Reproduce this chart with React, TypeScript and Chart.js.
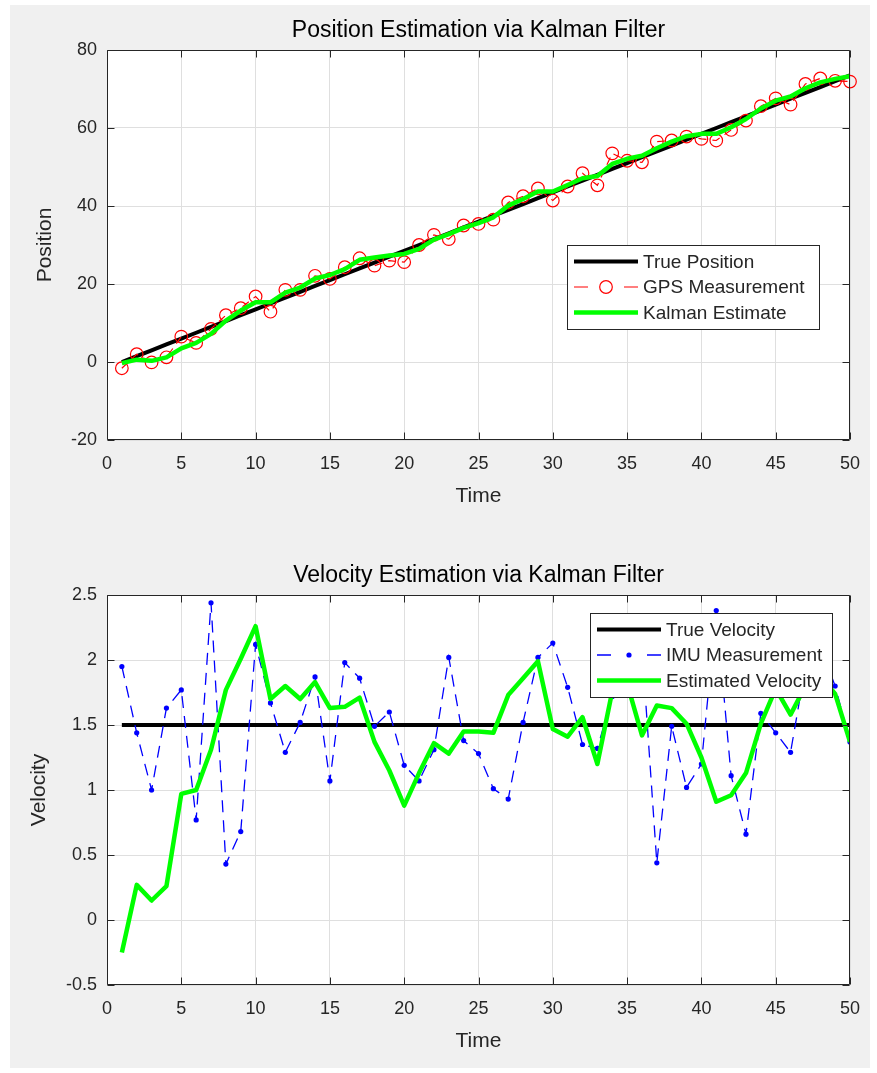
import React, { useEffect, useRef } from "react";
import { Chart, registerables } from "chart.js";

Chart.register(...registerables);

// ---------------- DATA ----------------
const time = [1, 2, 3, 4, 5, 6, 7, 8, 9, 10, 11, 12, 13, 14, 15, 16, 17, 18, 19, 20, 21, 22, 23, 24, 25, 26, 27, 28, 29, 30, 31, 32, 33, 34, 35, 36, 37, 38, 39, 40, 41, 42, 43, 44, 45, 46, 47, 48, 49, 50];

const truePosition = [0, 1.5, 3, 4.5, 6, 7.5, 9, 10.5, 12, 13.5, 15, 16.5, 18, 19.5, 21, 22.5, 24, 25.5, 27, 28.5, 30, 31.5, 33, 34.5, 36, 37.5, 39, 40.5, 42, 43.5, 45, 46.5, 48, 49.5, 51, 52.5, 54, 55.5, 57, 58.5, 60, 61.5, 63, 64.5, 66, 67.5, 69, 70.5, 72, 73.5];

const gpsMeasurement = [-1.6, 2.0, -0.1, 1.2, 6.5, 4.9, 8.5, 12.0, 13.8, 16.8, 12.9, 18.5, 18.5, 22.1, 21.3, 24.3, 26.6, 24.7, 26.0, 25.6, 30.0, 32.6, 31.5, 35.0, 35.4, 36.5, 40.9, 42.5, 44.5, 41.4, 45.0, 48.4, 45.3, 53.5, 51.6, 51.2, 56.5, 56.8, 57.8, 57.2, 56.8, 59.5, 61.9, 65.6, 67.6, 66.0, 71.3, 72.7, 72.1, 71.9];

const kalmanEstimate = [-0.3, 0.6, 0.3, 1.2, 3.5, 4.9, 7.2, 10.6, 13.2, 15.3, 15.3, 17.8, 19.1, 21.4, 22.3, 23.8, 26.2, 26.8, 27.3, 27.7, 29.0, 31.4, 32.8, 34.4, 35.6, 37.1, 40.1, 41.8, 43.7, 43.7, 45.4, 47.1, 47.7, 50.8, 52.1, 52.9, 54.8, 56.5, 57.9, 58.5, 58.5, 60.2, 62.3, 65.0, 67.0, 68.1, 70.2, 71.7, 72.6, 73.3];

const trueVelocity = [1.5, 1.5, 1.5, 1.5, 1.5, 1.5, 1.5, 1.5, 1.5, 1.5, 1.5, 1.5, 1.5, 1.5, 1.5, 1.5, 1.5, 1.5, 1.5, 1.5, 1.5, 1.5, 1.5, 1.5, 1.5, 1.5, 1.5, 1.5, 1.5, 1.5, 1.5, 1.5, 1.5, 1.5, 1.5, 1.5, 1.5, 1.5, 1.5, 1.5, 1.5, 1.5, 1.5, 1.5, 1.5, 1.5, 1.5, 1.5, 1.5, 1.5];

const imuMeasurement = [1.95, 1.44, 1.0, 1.63, 1.77, 0.77, 2.44, 0.43, 0.68, 2.12, 1.67, 1.29, 1.52, 1.87, 1.07, 1.98, 1.86, 1.49, 1.6, 1.19, 1.07, 1.31, 2.02, 1.38, 1.28, 1.01, 0.93, 1.52, 2.02, 2.13, 1.79, 1.35, 1.32, 1.72, 1.9, 2.1, 0.44, 1.49, 1.02, 1.2, 2.38, 1.11, 0.66, 1.59, 1.44, 1.29, 1.95, 2.1, 1.8, 1.37];

const estimatedVelocity = [-0.25, 0.27, 0.15, 0.26, 0.97, 1.0, 1.31, 1.77, 2.01, 2.26, 1.7, 1.8, 1.7, 1.83, 1.63, 1.64, 1.71, 1.37, 1.15, 0.88, 1.13, 1.36, 1.28, 1.45, 1.45, 1.44, 1.73, 1.86, 1.99, 1.47, 1.41, 1.56, 1.2, 1.76, 1.82, 1.42, 1.65, 1.63, 1.51, 1.25, 0.91, 0.96, 1.13, 1.51, 1.78, 1.58, 1.8, 1.88, 1.74, 1.37];

const positionTitle = "Position Estimation via Kalman Filter";
const velocityTitle = "Velocity Estimation via Kalman Filter";
const positionLegend = ["True Position", "GPS Measurement", "Kalman Estimate"];
const velocityLegend = ["True Velocity", "IMU Measurement", "Estimated Velocity"];

// ---------------- STYLE ----------------
const FONT = '"Liberation Sans", Arial, Helvetica, sans-serif';
const TEXT = "#262626";
const GRID = "#dfdfdf";

const pts = (xs: number[], ys: number[]) => xs.map((x, i) => ({ x, y: ys[i] }));
const fmt = (v: any) => String(Math.round(Number(v) * 100) / 100);

const axesBoxPlugin = {
  id: "axesBox",
  beforeDraw(chart: any) {
    const { ctx, chartArea } = chart;
    ctx.save();
    ctx.fillStyle = "#ffffff";
    ctx.fillRect(chartArea.left, chartArea.top, chartArea.right - chartArea.left, chartArea.bottom - chartArea.top);
    ctx.restore();
  },
  afterDatasetsDraw(chart: any) {
    const { ctx, chartArea, scales } = chart;
    const L = Math.round(chartArea.left) + 0.5;
    const R = Math.round(chartArea.right) - 0.5;
    const T = Math.round(chartArea.top) + 0.5;
    const B = Math.round(chartArea.bottom) - 0.5;
    ctx.save();
    ctx.strokeStyle = TEXT;
    ctx.lineWidth = 1;
    ctx.beginPath();
    ctx.rect(L, T, R - L, B - T);
    const tl = 7;
    scales.x.ticks.forEach((t: any) => {
      const px = Math.round(scales.x.getPixelForValue(t.value)) + 0.5;
      ctx.moveTo(px, B);
      ctx.lineTo(px, B - tl);
      ctx.moveTo(px, T);
      ctx.lineTo(px, T + tl);
    });
    scales.y.ticks.forEach((t: any) => {
      const py = Math.round(scales.y.getPixelForValue(t.value)) + 0.5;
      ctx.moveTo(L, py);
      ctx.lineTo(L + tl, py);
      ctx.moveTo(R, py);
      ctx.lineTo(R - tl, py);
    });
    ctx.stroke();
    ctx.restore();
  },
};

function makeTitlePlugin(text: string) {
  return {
    id: "axesTitle",
    afterDraw(chart: any) {
      const { ctx, chartArea } = chart;
      ctx.save();
      ctx.fillStyle = "#000000";
      ctx.font = `23px ${FONT}`;
      ctx.textAlign = "center";
      ctx.textBaseline = "middle";
      ctx.fillText(text, (chartArea.left + chartArea.right) / 2, chartArea.top - 19);
      ctx.restore();
    },
  };
}

type LegendItem = { label: string; color: string; width: number; marker?: "circle" | "dot" };

function makeLegendPlugin(items: LegendItem[], box: { dRight: number; dTop: number; w: number; h: number }) {
  return {
    id: "boxLegend",
    afterDraw(chart: any) {
      const { ctx, chartArea } = chart;
      const x = Math.round(chartArea.right - box.dRight);
      const y = Math.round(chartArea.top + box.dTop);
      ctx.save();
      ctx.fillStyle = "#ffffff";
      ctx.fillRect(x, y, box.w, box.h);
      ctx.strokeStyle = TEXT;
      ctx.lineWidth = 1;
      ctx.strokeRect(x + 0.5, y + 0.5, box.w, box.h);
      const rows = [16.5, 42, 67.5];
      items.forEach((it, i) => {
        const ry = y + rows[i];
        const x0 = x + 7;
        const x1 = x + 71;
        const cx = (x0 + x1) / 2;
        ctx.strokeStyle = it.color;
        ctx.lineWidth = it.width;
        ctx.lineCap = "butt";
        ctx.beginPath();
        if (it.marker) {
          ctx.moveTo(x0, ry);
          ctx.lineTo(x0 + 14, ry);
          ctx.moveTo(x1 - 14, ry);
          ctx.lineTo(x1, ry);
        } else {
          ctx.moveTo(x0, ry);
          ctx.lineTo(x1, ry);
        }
        ctx.stroke();
        if (it.marker === "circle") {
          ctx.beginPath();
          ctx.arc(cx, ry, 6.3, 0, Math.PI * 2);
          ctx.stroke();
        } else if (it.marker === "dot") {
          ctx.fillStyle = it.color;
          ctx.beginPath();
          ctx.arc(cx, ry, 2.6, 0, Math.PI * 2);
          ctx.fill();
        }
        ctx.fillStyle = TEXT;
        ctx.font = `19px ${FONT}`;
        ctx.textAlign = "left";
        ctx.textBaseline = "middle";
        ctx.fillText(it.label, x + 76, ry + 1);
      });
      ctx.restore();
    },
  };
}

function baseOptions(o: {
  padTop: number;
  yTitle: string;
  yTitlePad: number;
  yMin: number;
  yMax: number;
  yStep: number;
  xHeight: number;
  xTitlePad: number;
}) {
  return {
    responsive: false,
    animation: false as const,
    devicePixelRatio: 1,
    layout: { padding: { left: 0, right: 27, top: o.padTop, bottom: 0 } },
    plugins: {
      legend: { display: false },
      tooltip: { enabled: false },
      title: { display: false },
    },
    scales: {
      x: {
        type: "linear" as const,
        min: 0,
        max: 50,
        afterFit: (s: any) => {
          s.height = o.xHeight;
        },
        ticks: {
          stepSize: 5,
          autoSkip: false,
          maxRotation: 0,
          padding: 13,
          color: TEXT,
          font: { family: FONT, size: 18 },
          callback: fmt,
        },
        grid: { color: GRID, drawTicks: false, lineWidth: 1 },
        border: { display: false },
        title: {
          display: true,
          text: "Time",
          color: TEXT,
          font: { family: FONT, size: 21 },
          padding: { top: 0, bottom: o.xTitlePad },
        },
      },
      y: {
        type: "linear" as const,
        min: o.yMin,
        max: o.yMax,
        afterFit: (s: any) => {
          s.width = 107;
        },
        ticks: {
          stepSize: o.yStep,
          autoSkip: false,
          padding: 10,
          color: TEXT,
          font: { family: FONT, size: 18 },
          callback: fmt,
        },
        grid: { color: GRID, drawTicks: false, lineWidth: 1 },
        border: { display: false },
        title: {
          display: true,
          text: o.yTitle,
          color: TEXT,
          font: { family: FONT, size: 21 },
          padding: { top: o.yTitlePad, bottom: 0 },
        },
      },
    },
  };
}

function positionConfig(): any {
  return {
    type: "line",
    data: {
      datasets: [
        {
          label: positionLegend[0],
          data: pts(time, truePosition),
          borderColor: "#000000",
          borderWidth: 4,
          pointRadius: 0,
          order: 3,
        },
        {
          label: positionLegend[1],
          data: pts(time, gpsMeasurement),
          borderColor: "#ff0000",
          borderWidth: 1.2,
          borderDash: [8, 6],
          pointStyle: "circle",
          pointRadius: 6.3,
          pointBorderWidth: 1.2,
          pointBorderColor: "#ff0000",
          pointBackgroundColor: "rgba(0,0,0,0)",
          clip: 8,
          order: 2,
        },
        {
          label: positionLegend[2],
          data: pts(time, kalmanEstimate),
          borderColor: "#00ff00",
          borderWidth: 4.5,
          borderJoinStyle: "round",
          pointRadius: 0,
          order: 1,
        },
      ],
    },
    options: baseOptions({
      padTop: 50,
      yTitle: "Position",
      yTitlePad: 33,
      yMin: -20,
      yMax: 80,
      yStep: 20,
      xHeight: 90,
      xTitlePad: 21,
    }),
    plugins: [
      axesBoxPlugin,
      makeTitlePlugin(positionTitle),
      makeLegendPlugin(
        [
          { label: positionLegend[0], color: "#000000", width: 4 },
          { label: positionLegend[1], color: "#ff0000", width: 1.2, marker: "circle" },
          { label: positionLegend[2], color: "#00ff00", width: 4.5 },
        ],
        { dRight: 283, dTop: 195, w: 252, h: 84 }
      ),
    ],
  };
}

function velocityConfig(): any {
  return {
    type: "line",
    data: {
      datasets: [
        {
          label: velocityLegend[0],
          data: pts(time, trueVelocity),
          borderColor: "#000000",
          borderWidth: 4,
          pointRadius: 0,
          order: 3,
        },
        {
          label: velocityLegend[1],
          data: pts(time, imuMeasurement),
          borderColor: "#0000ff",
          borderWidth: 1.3,
          borderDash: [12, 8],
          pointStyle: "circle",
          pointRadius: 2.6,
          pointBorderWidth: 0,
          pointBackgroundColor: "#0000ff",
          order: 2,
        },
        {
          label: velocityLegend[2],
          data: pts(time, estimatedVelocity),
          borderColor: "#00ff00",
          borderWidth: 4.5,
          borderJoinStyle: "round",
          pointRadius: 0,
          order: 1,
        },
      ],
    },
    options: baseOptions({
      padTop: 65,
      yTitle: "Velocity",
      yTitlePad: 27,
      yMin: -0.5,
      yMax: 2.5,
      yStep: 0.5,
      xHeight: 88,
      xTitlePad: 19,
    }),
    plugins: [
      axesBoxPlugin,
      makeTitlePlugin(velocityTitle),
      makeLegendPlugin(
        [
          { label: velocityLegend[0], color: "#000000", width: 4 },
          { label: velocityLegend[1], color: "#0000ff", width: 1.3, marker: "dot" },
          { label: velocityLegend[2], color: "#00ff00", width: 4.5 },
        ],
        { dRight: 260, dTop: 18, w: 242, h: 84 }
      ),
    ],
  };
}

function ChartCanvas({ top, height, makeConfig }: { top: number; height: number; makeConfig: () => any }) {
  const ref = useRef<HTMLCanvasElement>(null);
  useEffect(() => {
    const chart = new Chart(ref.current as HTMLCanvasElement, makeConfig());
    return () => chart.destroy();
  }, []);
  return (
    <canvas
      ref={ref}
      width={877}
      height={height}
      style={{ position: "absolute", left: 0, top, width: 877, height, display: "block" }}
    />
  );
}

export default function App() {
  return (
    <div style={{ position: "absolute", left: 0, top: 0, width: 877, height: 1073, background: "#ffffff", overflow: "hidden" }}>
      <div style={{ position: "absolute", left: 10, top: 5, width: 860, height: 1063, background: "#f0f0f0" }} />
      <ChartCanvas top={0} height={530} makeConfig={positionConfig} />
      <ChartCanvas top={530} height={543} makeConfig={velocityConfig} />
    </div>
  );
}
